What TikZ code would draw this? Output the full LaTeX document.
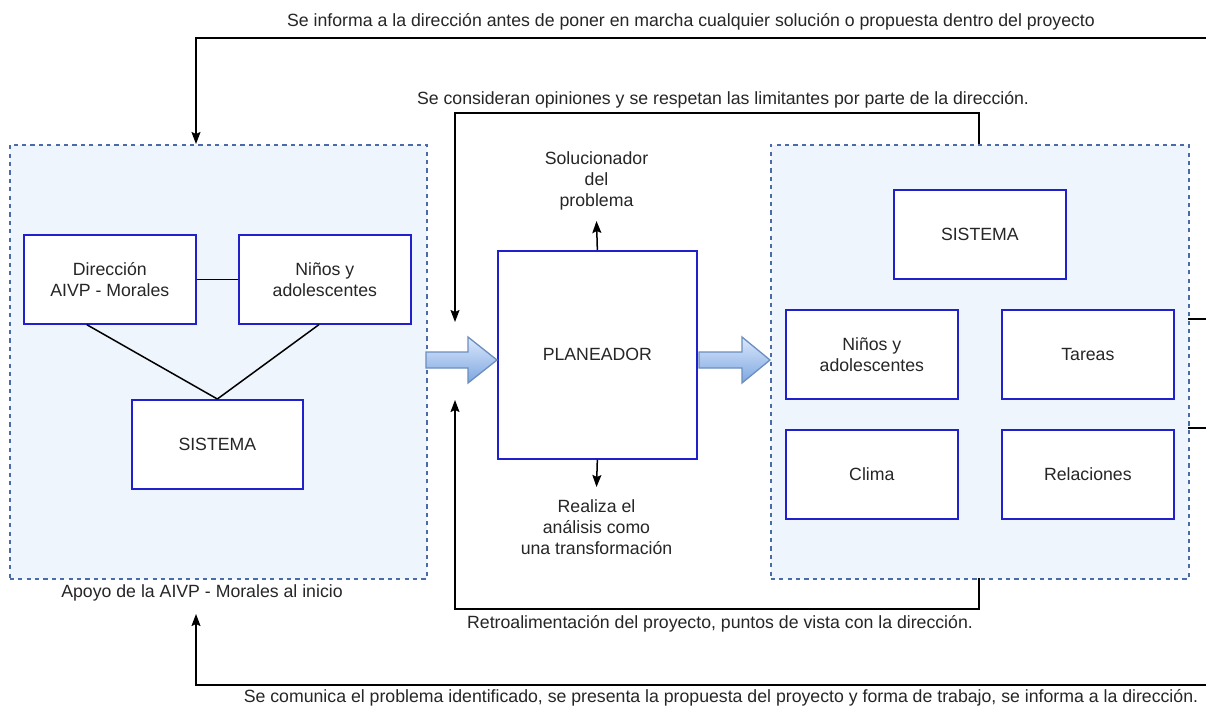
\documentclass[tikz,border=0pt]{standalone}
\usepackage{fontspec}
\setmainfont{Liberation Sans}
\usetikzlibrary{arrows.meta}
\definecolor{boxblue}{HTML}{2020CC}
\definecolor{contfill}{HTML}{EEF5FD}
\definecolor{contline}{HTML}{4A6AA8}
\definecolor{arrtop}{HTML}{DAE8FC}
\definecolor{arrbot}{HTML}{7EA6E0}
\definecolor{arrline}{HTML}{6C8EBF}
\tikzset{
  x=1pt, y=-1pt,
  every node/.style={font=\fontsize{17.7}{21}\selectfont, text=black!85},
  container/.style={draw=contline, fill=contfill, dash pattern=on 4.2pt off 4.2pt, line width=1.5pt},
  sbox/.style={draw=boxblue, fill=white, line width=1.7pt, align=center, inner sep=0pt},
  conn/.style={draw=black, line width=1.5pt},
  arr/.style={conn, -{Stealth[length=12pt,width=9pt,inset=2pt]}},
  lbl/.style={align=center, inner sep=0pt},
  blockarrow/.style={draw=arrline, line width=1.3pt, top color=arrtop, bottom color=arrbot},
}
\newcommand{\boxat}[6]{\node[sbox, minimum width=#4, minimum height=#5, anchor=north west] (#1) at (#2,#3) {#6};}
\begin{document}
\begin{tikzpicture}
\useasboundingbox (0,0) rectangle (1206,709);
\fill[white] (0,0) rectangle (1206,709);

% containers
\node[container, minimum width=417pt, minimum height=434pt, anchor=north west, inner sep=0pt] (leftc) at (9,144) {};
\node[container, minimum width=418pt, minimum height=434pt, anchor=north west, inner sep=0pt] (rightc) at (770,144) {};
\node[lbl] (leftlbl) at (202,593) {Apoyo de la AIVP - Morales al inicio};

% left boxes
\boxat{dir}{23}{234}{172pt}{89pt}{Dirección\\AIVP - Morales}
\boxat{nin}{238}{234}{172pt}{89pt}{Niños y\\adolescentes}
\boxat{sisl}{131}{399}{171pt}{89pt}{SISTEMA}
\draw[conn] (dir.east) -- (nin.west);
\draw[conn] ([xshift=-23pt]dir.south) -- (sisl.north);
\draw[conn] ([xshift=-6pt]nin.south) -- (sisl.north);

% planeador
\boxat{plan}{497}{250}{199pt}{208pt}{PLANEADOR}
\node[lbl] (sol) at (596.5,181) {Solucionador\\del\\problema};
\node[lbl] (rea) at (596.5,527) {Realiza el\\análisis como\\una transformación};
\coordinate (solb) at (596.5,221);
\coordinate (reat) at (596.5,487);
\draw[arr] (plan.north) -- (solb);
\draw[arr] (plan.south) -- (reat);

% right boxes
\boxat{sisr}{893}{189}{172pt}{89pt}{SISTEMA}
\boxat{ninr}{785}{309}{172pt}{89pt}{Niños y\\adolescentes}
\boxat{tar}{1001}{309}{172pt}{89pt}{Tareas}
\boxat{cli}{785}{429}{172pt}{89pt}{Clima}
\boxat{rel}{1001}{429}{172pt}{89pt}{Relaciones}

% block arrows
\path[blockarrow] (426,352) -- (468,352) -- (468,337) -- (497,360) -- (468,383) -- (468,368) -- (426,368) -- cycle;
\path[blockarrow] (699,352) -- (742,352) -- (742,337) -- (770,360) -- (742,383) -- (742,368) -- (699,368) -- cycle;

% right side stubs
\coordinate (e1) at (1206,319);
\coordinate (e2) at (1206,428);
\draw[conn] (1188,319) -- (e1);
\draw[conn] (1188,428) -- (e2);

% top outer feedback
\coordinate (t0) at (1206,38);
\draw[arr] (t0) -- (196,38) -- (196,144);
\node[lbl] (toplbl) at (691,22) {Se informa a la dirección antes de poner en marcha cualquier solución o propuesta dentro del proyecto};

% inner top loop
\coordinate (inA) at (455,322);
\draw[arr] (979,144) -- (979,113) -- (455,113) -- (inA);
\node[lbl, fill=white, inner xsep=2pt] (cons) at (723,100) {Se consideran opiniones y se respetan las limitantes por parte de la dirección.};

% inner bottom loop
\coordinate (inB) at (455,400);
\draw[arr] (979,578) -- (979,609) -- (455,609) -- (inB);
\node[lbl] (retro) at (720,624) {Retroalimentación del proyecto, puntos de vista con la dirección.};

% bottom outer
\coordinate (b0) at (1206,685);
\draw[arr] (b0) -- (196,685) -- (196,614);
\node[lbl] (botlbl) at (721,698) {Se comunica el problema identificado, se presenta la propuesta del proyecto y forma de trabajo, se informa a la dirección.};
\end{tikzpicture}
\end{document}
